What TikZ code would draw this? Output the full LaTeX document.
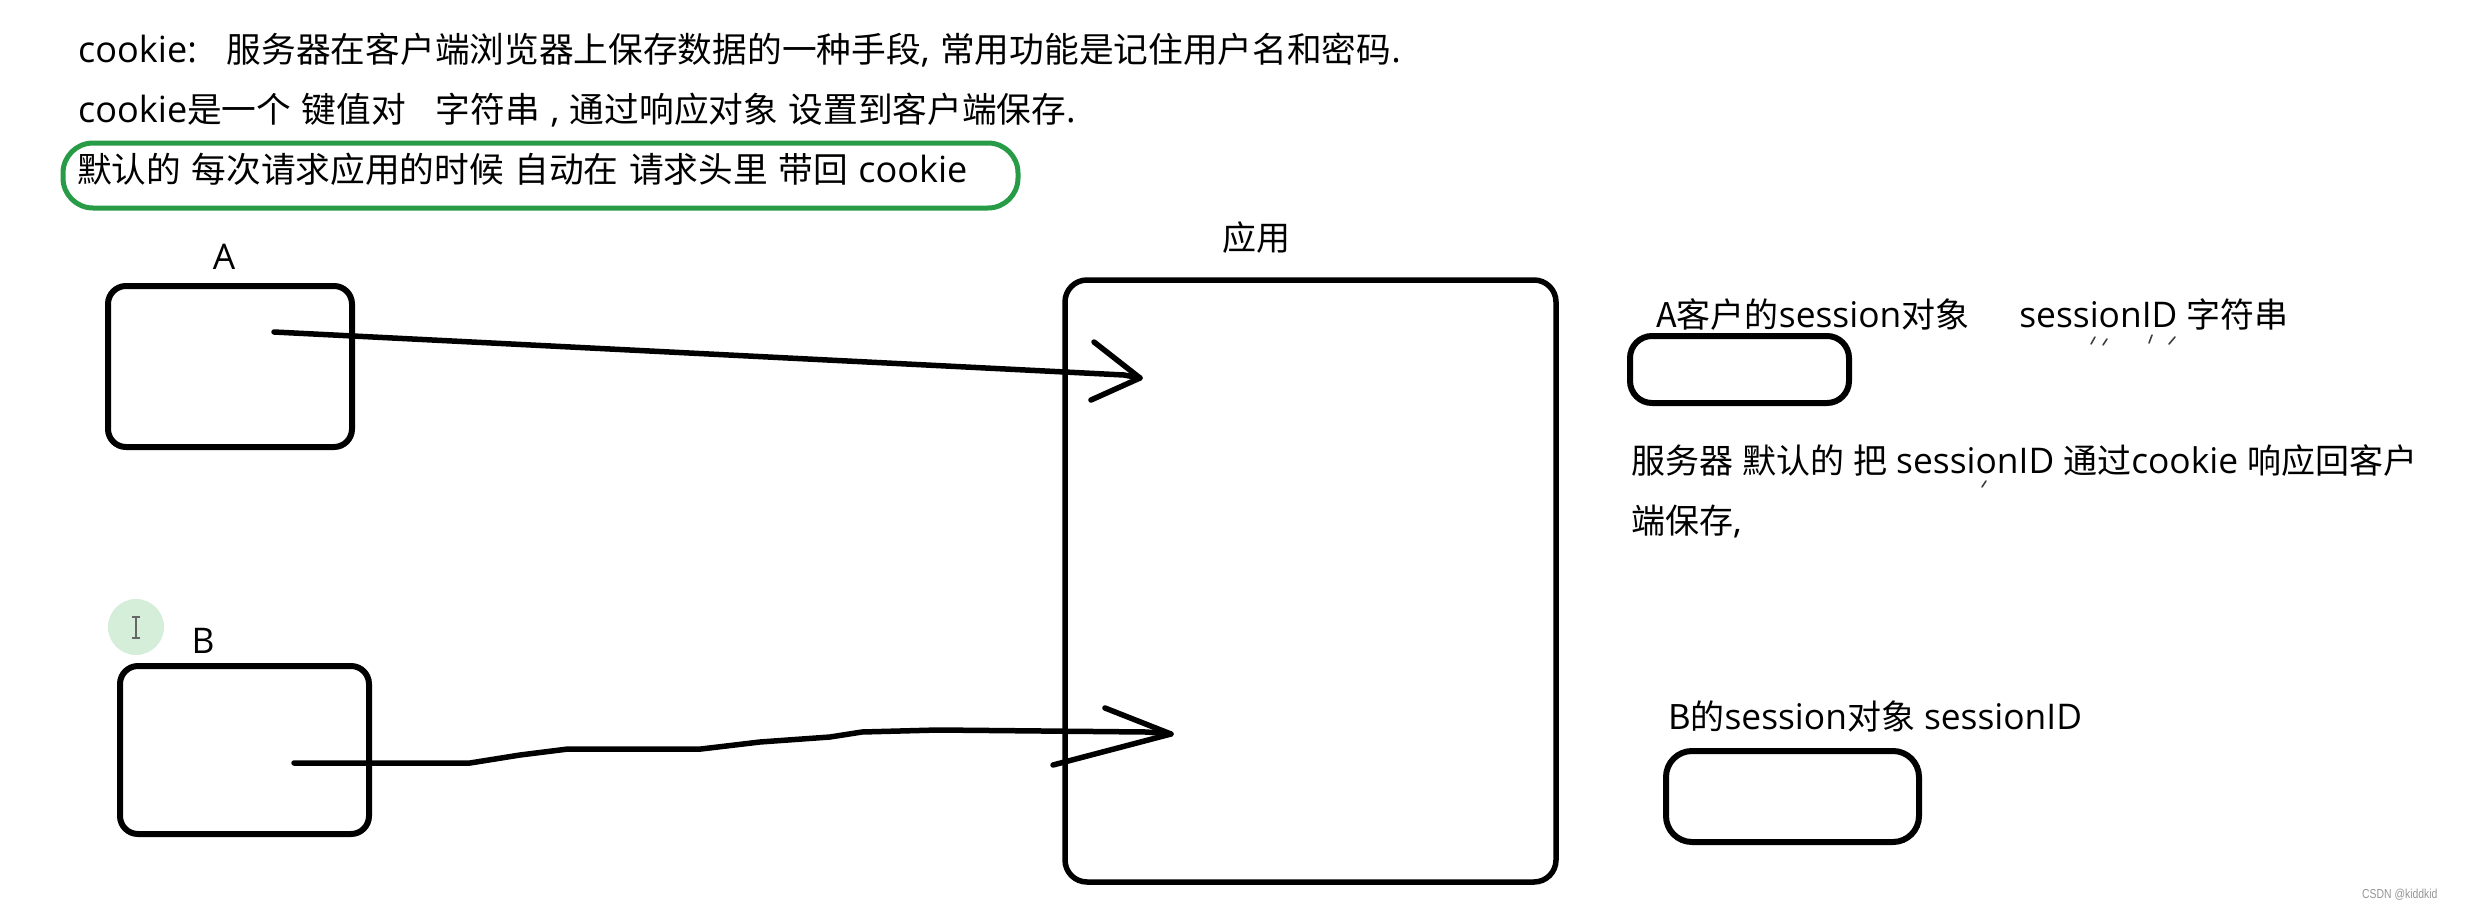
\documentclass[tikz,border=0pt]{standalone}
\usepackage{fontspec}
\usepackage{graphicx}
\setmainfont{Noto Sans CJK SC}
\newfontfamily\enf{Open Sans}[Scale=1.04]
\newfontfamily\wmf{Liberation Sans}
\newcommand\E[1]{{\enf #1}}
\newcommand\sidefont{\fontsize{34}{40}\selectfont\spaceskip 9pt\relax}
\newcommand\topfont{\fontsize{34.7}{40}\selectfont\spaceskip 10.5pt\relax}
\definecolor{hlgreen}{RGB}{40,155,70}
\definecolor{cursorgreen}{RGB}{212,238,218}
\definecolor{wmgray}{RGB}{150,150,150}
\begin{document}
\begin{tikzpicture}[x=1pt,y=-1pt,
  txt/.style={anchor=base west, inner sep=0, font=\sidefont},
  toptxt/.style={anchor=base west, inner sep=0, font=\topfont},
  lbl/.style={anchor=base, inner sep=0, font=\fontsize{34}{40}\selectfont},
  box/.style={draw, line width=6, rounded corners=18, inner sep=0},
  conn/.style={line width=5.5, line cap=round, line join=round},
  hl/.style={draw=hlgreen, line width=5, rounded corners=30, inner sep=0},
  tick/.style={line width=1.6, draw=black!75, line cap=round}]
\fill[white] (0,0) rectangle (2465,907);
\useasboundingbox (0,0) rectangle (2465,907);

% top text
\node[toptxt] (l1) at (78,63) {\E{cookie:}\hspace{30pt}服务器在客户端浏览器上保存数据的一种手段\E{, }常用功能是记住用户名和密码\E{.}};
\node[toptxt] (l2) at (78,122) {\E{cookie}是一个 键值对\hspace{30pt}字符串 \E{,} 通过响应对象 设置到客户端保存\E{.}};
\node[toptxt] (l3) at (77,182) {默认的 每次请求应用的时候 自动在 请求头里 带回 \E{cookie}};
\node[hl, minimum width=955, minimum height=65] (mark) at (540.5,175.5) {};

% cursor highlight
\node[circle, fill=cursorgreen, minimum size=56, inner sep=0] (cur) at (136,627) {};
\draw[line width=1.2, black!60] (132,617) -- (140,617) (136,617) -- (136,638) (132,638) -- (140,638);

% clients
\node[lbl] (labA) at (224,269) {\E{A}};
\node[box, minimum width=244, minimum height=161] (A) at (230,366.5) {};
\node[lbl] (labB) at (203,653) {\E{B}};
\node[box, minimum width=249, minimum height=168] (B) at (244.5,750) {};

% application
\node[lbl] (labApp) at (1256,250) {应用};
\node[box, line width=5.5, rounded corners=22, minimum width=491, minimum height=602] (app) at (1310.5,581) {};

% arrows
\coordinate (a0) at (274,332);
\coordinate (a1) at (1140,378);
\draw[conn] (a0) -- (1124,375) -- (a1);
\draw[conn] (a1) ++(-46,-36) -- (a1) -- ++(-49,22);

\coordinate (b0) at (294,763);
\coordinate (b1) at (1171,734);
\draw[conn] (b0) -- (470,763) -- (520,755) -- (568,749) -- (701,749) -- (760,742) -- (830,737) -- (862,732) -- (938,730) -- (1146,732) -- (b1);
\draw[conn] (b1) ++(-66,-26) -- (b1) -- ++(-118,31);

% session objects
\node[txt] (sA) at (1656,327) {A客户的\E{session}对象\hspace{50pt}\E{sessionID} 字符串};
\node[box, rounded corners=22, minimum width=219, minimum height=67] (boxSA) at (1739.5,369.5) {};
\node[txt] (srv1) at (1631,473) {服务器 默认的 把 \E{sessionID} 通过\E{cookie} 响应回客户};
\node[txt] (srv2) at (1631,533) {端保存\E{,}};
\node[txt] (sB) at (1668,729) {B的\E{session}对象 \E{sessionID}};
\node[box, rounded corners=26, minimum width=253, minimum height=91] (boxSB) at (1792.5,796.5) {};

% small stray strokes
\draw[tick] (2091,344) -- (2095,337);
\draw[tick] (2103,345) -- (2107,339);
\draw[tick] (2149,343) -- (2152,335);
\draw[tick] (2169,344) -- (2175,337);
\draw[tick] (1982,487) -- (1986,481);

% watermark
\node[anchor=base west, inner sep=0, text=wmgray, font=\wmf\fontsize{13}{15}\selectfont] (wm) at (2362,898) {\scalebox{0.8}[1]{CSDN @kiddkid}};
\end{tikzpicture}
\end{document}
